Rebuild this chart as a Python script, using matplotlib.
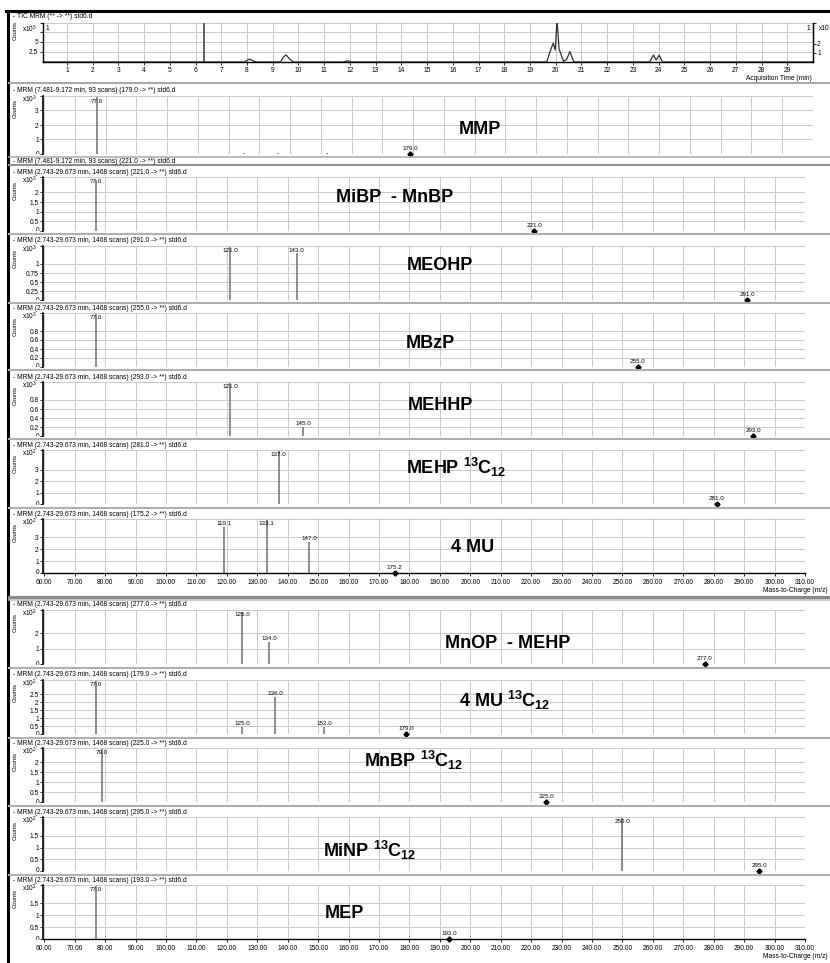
import matplotlib
matplotlib.use("Agg")
import matplotlib.pyplot as plt
from matplotlib.lines import Line2D
from matplotlib.transforms import Bbox, TransformedBbox

plt.rcParams['font.family'] = ['Liberation Sans', 'DejaVu Sans']
plt.rcParams['mathtext.fontset'] = 'custom'
plt.rcParams['mathtext.rm'] = 'Liberation Sans'
plt.rcParams['mathtext.bf'] = 'Liberation Sans:bold'

# ---- TIC trace (acquisition time in min, counts x10^5) ----
tic_time = [0.1, 7.9, 8.0, 8.1, 8.2, 8.35, 9.3, 9.42, 9.52, 9.65, 9.8,
            11.75, 11.9, 12.05, 19.65, 19.78, 19.9, 19.98, 20.05, 20.13,
            20.3, 20.42, 20.55, 20.7, 23.65, 23.8, 23.9, 24.02, 24.15, 30.0]
tic_counts = [0, 0, 0.4, 0.7, 0.4, 0, 0, 1.3, 1.75, 0.8, 0,
              0, 0.3, 0, 0, 2.6, 4.7, 3.0, 10.5, 3.2,
              0.2, 0.6, 2.6, 0, 0, 1.75, 0.5, 1.7, 0, 0]
tic_spike = 6.33
tic_minutes = list(range(1, 30))

# ---- product ion spectra, one entry per panel ----
compounds = ["MMP", "MiBP  - MnBP", "MEOHP", "MBzP", "MEHHP",
             r"MEHP $^{\mathbf{13}}\mathbf{C}_{\mathbf{12}}$", "4 MU",
             "MnOP  - MEHP",
             r"4 MU $^{\mathbf{13}}\mathbf{C}_{\mathbf{12}}$",
             r"MnBP $^{\mathbf{13}}\mathbf{C}_{\mathbf{12}}$",
             r"MiNP $^{\mathbf{13}}\mathbf{C}_{\mathbf{12}}$", "MEP"]
scan_info = ["7.481-9.172 min, 93 scans"] + ["2.743-29.673 min, 1468 scans"] * 11
precursor = [179.0, 221.0, 291.0, 255.0, 293.0, 281.0, 175.2, 277.0,
             179.0, 225.0, 295.0, 193.0]
exponent = [3, 3, 3, 3, 3, 2, 2, 2, 2, 2, 2, 2]
y_max = [4.0, 2.8, 1.5, 1.2, 1.2, 4.7, 4.5, 3.5, 3.4, 2.7, 2.3, 2.25]
y_ticks = [[1, 2, 3], [0.5, 1, 1.5, 2], [0.25, 0.5, 0.75, 1],
           [0.2, 0.4, 0.6, 0.8], [0.2, 0.4, 0.6, 0.8], [1, 2, 3], [1, 2, 3],
           [1, 2], [0.5, 1, 1.5, 2, 2.5], [0.5, 1, 1.5, 2], [0.5, 1, 1.5],
           [0.5, 1, 1.5]]
fragment_mz = [[77.0, 125.0, 136.0, 152.0], [77.0], [121.0, 143.0], [77.0],
               [121.0, 145.0], [137.0], [119.1, 133.1, 147.0], [125.0, 134.0],
               [77.0, 125.0, 136.0, 152.0], [79.0], [250.0], [77.0]]
fragment_counts = [[3.9, 0.05, 0.1, 0.05], [2.65], [1.48, 1.3], [1.18],
                   [1.18, 0.2], [4.6], [3.8, 4.45, 2.6], [3.4, 1.4],
                   [3.35, 0.45, 2.3, 0.45], [2.65], [2.25], [2.2]]
mz_ticks = list(range(60, 311, 10))

# ---- layout in pixels ----
W, H = 830, 963
header_y = [91, 172, 241, 308, 377, 445, 514, 605, 675, 743, 812, 880]
baseline_y = [154, 231, 300, 367, 436, 504, 573, 664, 734, 802, 871, 939]
right_x = [813] + [805] * 11
name_xy = [(480, 130), (395, 198), (440, 266), (430, 344), (440, 405),
           (456, 467), (473, 548), (508, 643), (505, 700), (414, 760),
           (370, 850), (344, 913)]
labelled_axis = [6, 11]
SMALL = 4.8
GRID = "#c8c8c8"

fig = plt.figure(figsize=(W / 100, H / 100), dpi=100)


def fx(x):
    return x / W


def fy(y):
    return 1 - y / H


def line(xs, ys, color, lw):
    fig.add_artist(Line2D([fx(v) for v in xs], [fy(v) for v in ys],
                          color=color, lw=lw, transform=fig.transFigure))


def px_axes(x0, top, x1, bottom):
    return fig.add_axes([fx(x0), fy(bottom), (x1 - x0) / W, (bottom - top) / H])


def small(x, y, s, **kw):
    kw.setdefault('va', 'center')
    return fig.text(fx(x), fy(y), s, fontsize=kw.pop('size', SMALL), **kw)


# frame
line([6, 830], [11, 11], 'black', 2.2)
line([8, 8], [11, 963], 'black', 2.2)

# ---- TIC panel ----
small(13, 16, "- TIC MRM (** -> **) std6.d")
small(22, 29, r"x10$^{5}$")
small(15, 31, "Counts", rotation=90, ha='center', size=4.3)
ax = px_axes(43, 23, 813, 62)
ax.plot(tic_time, tic_counts, color="#303030", lw=0.9)
ax.vlines(tic_spike, 0, 10, color="#555555", lw=1.3)
ax.set_xlim(0.07, 30.0)
ax.set_ylim(0, 9.75)
ax.set_xticks(tic_minutes)
ax.set_xticklabels([str(m) for m in tic_minutes])
ax.set_yticks([2.5, 5, 7.5, 9.75])
ax.set_yticklabels(["2.5", "5", "", ""])
ax.grid(True, color=GRID, lw=0.7)
ax.set_axisbelow(True)
ax.spines['top'].set_visible(False)
for side in ['left', 'right', 'bottom']:
    ax.spines[side].set_linewidth(1.0)
ax.tick_params(axis='both', length=2, width=0.6, pad=1.5, labelsize=SMALL)
ax2 = ax.twinx()
ax2.set_ylim(0, 4.33)
ax2.set_yticks([1, 2, 4.33])
ax2.set_yticklabels(["1", "2", ""])
ax2.tick_params(axis='y', length=2, width=0.6, pad=1, labelsize=SMALL)
for side in ['top', 'left', 'bottom']:
    ax2.spines[side].set_visible(False)
small(46, 28, "1")
small(810, 28, "1", ha='right')
small(819, 28, "x10")
small(812, 79, "Acquisition Time (min)", ha='right')
line([9, 830], [83, 83], "#a8a8a8", 1.5)

# ---- spectrum panels ----
for i in range(len(compounds)):
    top = header_y[i] + 5
    base = baseline_y[i]
    small(13, header_y[i],
          f"- MRM ({scan_info[i]}) ({precursor[i]:.1f} -> **) std6.d")
    small(22, header_y[i] + 8, rf"x10$^{{{exponent[i]}}}$")
    small(15, header_y[i] + 18, "Counts", rotation=90, ha='center', size=4.3)

    ax = px_axes(43, top, right_x[i], base)
    ax.set_xlim(59.6, 310)
    ax.set_ylim(0, y_max[i])
    ax.set_xticks(mz_ticks)
    ax.set_yticks([0] + y_ticks[i] + [y_max[i]])
    ax.set_yticklabels([""] + [f"{v:g}" for v in y_ticks[i]] + [""])
    ax.grid(True, color=GRID, lw=0.7)
    ax.set_axisbelow(True)
    for side in ['top', 'right']:
        ax.spines[side].set_visible(False)
    ax.spines['left'].set_linewidth(1.2)
    ax.tick_params(axis='y', length=2, width=0.6, pad=1, labelsize=SMALL)

    # the zero label is half hidden under the pane edge
    zero = small(39.5, base, "0", ha='right')
    zero.set_clip_box(TransformedBbox(
        Bbox([[0, fy(base + 0.5)], [fx(45), fy(base - 10)]]), fig.transFigure))
    zero.set_clip_on(True)

    if i in labelled_axis:
        ax.spines['bottom'].set_linewidth(1.0)
        ax.set_xticklabels([f"{v:.2f}" for v in mz_ticks])
        ax.tick_params(axis='x', length=2, width=0.6, pad=2, labelsize=SMALL)
        small(828, base + 17, "Mass-to-Charge (m/z)", ha='right')
    else:
        ax.spines['bottom'].set_visible(False)
        ax.tick_params(axis='x', length=0, labelbottom=False)

    ym = y_max[i]
    ax.vlines(fragment_mz[i], 0, fragment_counts[i], color="#7a7a7a", lw=1.2)
    for mz, c in zip(fragment_mz[i], fragment_counts[i]):
        if c > 0.15:
            ax.text(mz, min(c + 0.02 * ym, 0.87 * ym), f"{mz:.1f}",
                    ha='center', va='bottom', fontsize=4.5)
    ax.plot([precursor[i]], [0], marker='D', ms=2.6, color='black',
            clip_on=False, zorder=5)
    ax.annotate(f"{precursor[i]:.1f}", (precursor[i], 0), xytext=(0, 2.5),
                textcoords='offset points', ha='center', va='bottom',
                fontsize=4.5)

    nx, ny = name_xy[i]
    fig.text(fx(nx), fy(ny), compounds[i], fontsize=13, fontweight='bold',
             ha='center', va='center')

# separators between panes
line([9, 830], [157, 157], "#b0b0b0", 1.2)
small(13, 161, "- MRM (7.481-9.172 min, 93 scans) (221.0 -> **) std6.d")
line([9, 830], [165, 165], "#909090", 1.5)
for i in [1, 2, 3, 4, 5, 7, 8, 9, 10]:
    line([9, 830], [baseline_y[i] + 3.5] * 2, "#b0b0b0", 1.5)
line([9, 830], [597, 597], "#8a8a8a", 2.2)
line([9, 830], [600, 600], "#c0c0c0", 1.2)

fig.savefig("out.png", dpi=100, facecolor="white")
